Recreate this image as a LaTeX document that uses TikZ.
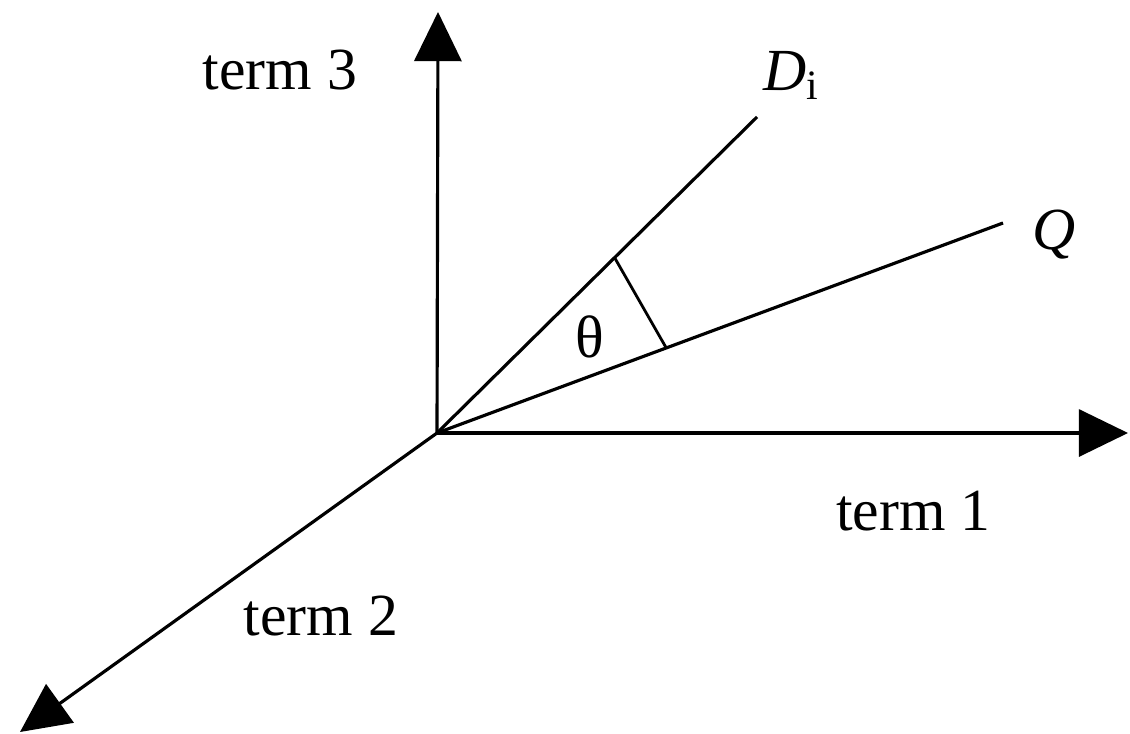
\documentclass[tikz,border=0pt]{standalone}
\usepackage{fontspec}
\setmainfont{Liberation Serif}
\usepackage{tikz}
\usetikzlibrary{arrows.meta, positioning, calc}

\begin{document}
\begin{tikzpicture}[
    axis/.style={-{Triangle[length=14pt, width=13.4pt]}, line width=0.9pt},
    vec/.style={line width=0.9pt},
    lbl/.style={font=\fontsize{17}{19}\selectfont, inner sep=0pt}
  ]
  \useasboundingbox (0,0) rectangle (11.3,7.33);

  % Origin and axis ends
  \coordinate (o)  at (4.37, 3.00);
  \coordinate (t1) at (11.28, 3.00);
  \coordinate (t2) at (0.20, 0.01);
  \coordinate (t3) at (4.38, 7.21);

  % Document and query vectors
  \coordinate (d) at (7.57, 6.16);
  \coordinate (q) at (10.03, 5.10);

  % Axes
  \draw[axis] (o) -- (t1);
  \draw[axis] (o) -- (t2);
  \draw[axis] (o) -- (t3);

  % Vectors
  \draw[vec] (o) -- (d);
  \draw[vec] (o) -- (q);

  % Angle mark
  \coordinate (md) at ($(o)!0.555!(d)$);
  \coordinate (mq) at ($(o)!0.405!(q)$);
  \draw[line width=0.8pt] (md) -- (mq);

  % Labels
  \node[lbl] (l3) at (2.80, 6.625) {term 3};
  \node[lbl] (l1) at (9.135, 2.22) {term 1};
  \node[lbl] (l2) at (3.21, 1.165) {term 2};
  \node[lbl] (ld) at (7.92, 6.58) {\textit{D}\textsubscript{i}};
  \node[lbl] (lq) at (10.54, 4.98) {\textit{Q}};
  \node[lbl] (lt) at (5.895, 3.965) {θ};

\end{tikzpicture}
\end{document}
